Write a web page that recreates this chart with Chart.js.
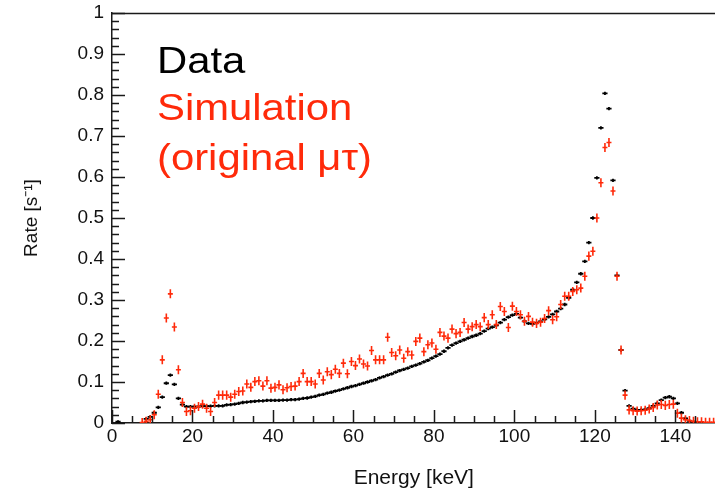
<!DOCTYPE html>
<html>
<head>
<meta charset="utf-8">
<script src="https://cdn.jsdelivr.net/npm/chart.js@4.4.1/dist/chart.umd.min.js"></script>
<style>
  html, body { margin: 0; padding: 0; background: #fff; overflow: hidden; }
  #wrap { width: 720px; height: 492px; }
</style>
</head>
<body>
<div id="wrap"><canvas id="rateChart" width="720" height="492"></canvas></div>
<script>
// axis setup
const energyMin = 0;
const energyMax = 150;
const binWidth = 1;
const xTickValues = [0, 20, 40, 60, 80, 100, 120, 140];
const yTickValues = [0, 0.1, 0.2, 0.3, 0.4, 0.5, 0.6, 0.7, 0.8, 0.9, 1];
const xMinorStep = 5;
const yMinorStep = 0.02;

// rate per 1 keV bin (index = lower bin edge in keV), null = empty bin
const dataRate = [
  null, 0.003, null, null, null, null, null, null, 0.010, 0.015,
  0.025, 0.038, 0.063, 0.097, 0.117, 0.094, 0.060, 0.045, 0.040, 0.040,
  0.040, 0.040, 0.041, 0.041, 0.041, 0.042, 0.042, 0.042, 0.044, 0.045,
  0.046, 0.048, 0.050, 0.051, 0.052, 0.053, 0.054, 0.054, 0.055, 0.055,
  0.055, 0.055, 0.056, 0.056, 0.057, 0.057, 0.058, 0.060, 0.061, 0.063,
  0.065, 0.068, 0.070, 0.073, 0.075, 0.078, 0.080, 0.083, 0.086, 0.089,
  0.091, 0.094, 0.097, 0.100, 0.103, 0.106, 0.110, 0.113, 0.117, 0.120,
  0.124, 0.128, 0.131, 0.134, 0.138, 0.141, 0.145, 0.149, 0.153, 0.158,
  0.163, 0.168, 0.175, 0.183, 0.190, 0.195, 0.199, 0.203, 0.207, 0.211,
  0.214, 0.218, 0.224, 0.230, 0.234, 0.238, 0.245, 0.252, 0.258, 0.263,
  0.266, 0.257, 0.248, 0.243, 0.242, 0.244, 0.248, 0.253, 0.259, 0.265,
  0.272, 0.279, 0.289, 0.305, 0.325, 0.343, 0.364, 0.394, 0.440, 0.500,
  0.598, 0.720, 0.804, 0.767, 0.592, 0.360, 0.178, 0.079, 0.042, 0.035,
  0.032, 0.032, 0.033, 0.036, 0.042, 0.048, 0.056, 0.062, 0.064, 0.060,
  0.048, 0.025, 0.011, 0.005, 0.002, 0.001, null, null, null, null
];

const simRate = [
  null, null, null, null, null, null, null, 0.001, 0.004, 0.008,
  0.020, 0.070, 0.154, 0.256, 0.315, 0.234, 0.130, 0.050, 0.028, 0.030,
  0.036, 0.040, 0.046, 0.036, 0.028, 0.050, 0.068, 0.068, 0.068, 0.063,
  0.070, 0.077, 0.078, 0.095, 0.087, 0.101, 0.103, 0.090, 0.103, 0.085,
  0.087, 0.093, 0.081, 0.086, 0.089, 0.090, 0.101, 0.121, 0.101, 0.101,
  0.095, 0.121, 0.105, 0.125, 0.118, 0.131, 0.121, 0.146, 0.120, 0.150,
  0.140, 0.156, 0.144, 0.139, 0.177, 0.154, 0.154, 0.154, 0.209, 0.172,
  0.164, 0.178, 0.158, 0.174, 0.166, 0.199, 0.207, 0.174, 0.191, 0.195,
  0.180, 0.221, 0.212, 0.207, 0.229, 0.218, 0.221, 0.245, 0.229, 0.235,
  0.240, 0.235, 0.257, 0.240, 0.264, 0.240, 0.284, 0.272, 0.233, 0.285,
  0.272, 0.264, 0.248, 0.260, 0.246, 0.243, 0.246, 0.255, 0.274, 0.252,
  0.259, 0.289, 0.309, 0.309, 0.321, 0.325, 0.329, 0.358, 0.407, 0.419,
  0.500, 0.586, 0.672, 0.684, 0.566, 0.358, 0.178, 0.068, 0.032, 0.030,
  0.029, 0.030, 0.031, 0.034, 0.038, 0.044, 0.045, 0.043, 0.045, 0.046,
  0.024, 0.012, 0.008, 0.006, 0.004, 0.003, 0.003, 0.002, 0.002, 0.002
];

const dataErr = 0.004;
const simErr = 0.011;

const legendLines = ['Data', 'Simulation', '(original \u03bc\u03c4)'];
const legendColors = ['#000000', '#ff2a0a', '#ff2a0a'];

const FONT = '"Liberation Sans", Arial, sans-serif';
const RED = '#ff2a0a';

function toPoints(values) {
  return values
    .map((v, i) => (v === null ? null : { x: energyMin + i * binWidth + binWidth / 2, y: v }))
    .filter((p) => p !== null);
}

// vertical error bars, drawn right after each dataset's markers
const errorBars = {
  id: 'errorBars',
  afterDatasetDraw(chart, args) {
    const { ctx, chartArea } = chart;
    const ds = chart.data.datasets[args.index];
    const yScale = chart.scales.y;
    ctx.save();
    ctx.beginPath();
    ctx.rect(chartArea.left, chartArea.top, chartArea.right - chartArea.left, chartArea.bottom - chartArea.top);
    ctx.clip();
    ctx.strokeStyle = ds.borderColor;
    ctx.lineWidth = ds.borderWidth;
    ctx.beginPath();
    args.meta.data.forEach((el, i) => {
      const v = ds.data[i].y;
      ctx.moveTo(el.x, yScale.getPixelForValue(Math.max(v - ds.errBar, 0)));
      ctx.lineTo(el.x, yScale.getPixelForValue(v + ds.errBar));
    });
    ctx.stroke();
    ctx.restore();
  },
};

// ROOT style frame: inward major/minor ticks, top line and the text box
const rootFrame = {
  id: 'rootFrame',
  afterDatasetsDraw(chart) {
    const { ctx, chartArea } = chart;
    const xScale = chart.scales.x;
    const yScale = chart.scales.y;
    ctx.save();
    ctx.strokeStyle = '#1a1a1a';
    ctx.lineWidth = 1.5;
    ctx.beginPath();
    ctx.moveTo(chartArea.left, chartArea.top + 0.5);
    ctx.lineTo(chartArea.right, chartArea.top + 0.5);
    ctx.stroke();
    for (let k = 0; k * xMinorStep <= energyMax; k++) {
      const px = Math.round(xScale.getPixelForValue(energyMin + k * xMinorStep)) + 0.5;
      const len = k % 4 === 0 ? 13 : 7;
      ctx.beginPath();
      ctx.moveTo(px, chartArea.bottom);
      ctx.lineTo(px, chartArea.bottom - len);
      ctx.stroke();
    }
    for (let k = 0; k <= 50; k++) {
      const py = Math.round(yScale.getPixelForValue(k * yMinorStep)) + 0.5;
      const len = k % 5 === 0 ? 13 : 7;
      ctx.beginPath();
      ctx.moveTo(chartArea.left, py);
      ctx.lineTo(chartArea.left + len, py);
      ctx.stroke();
    }

    ctx.font = '37px ' + FONT;
    ctx.textBaseline = 'alphabetic';
    ctx.textAlign = 'left';
    const baselines = [73, 120, 170];
    legendLines.forEach((t, i) => {
      ctx.save();
      ctx.translate(157, baselines[i]);
      ctx.scale(1.13, 1);
      ctx.fillStyle = legendColors[i];
      ctx.fillText(t, 0, 0);
      ctx.restore();
    });
    ctx.restore();
  },
};

const ctx = document.getElementById('rateChart').getContext('2d');
new Chart(ctx, {
  type: 'scatter',
  data: {
    datasets: [
      {
        label: 'Simulation (original \u03bc\u03c4)',
        data: toPoints(simRate),
        errBar: simErr,
        borderColor: RED,
        backgroundColor: RED,
        pointStyle: 'line',
        pointRadius: 2.5,
        pointHoverRadius: 2.5,
        borderWidth: 1.6,
        order: 0,
      },
      {
        label: 'Data',
        data: toPoints(dataRate),
        errBar: dataErr,
        borderColor: '#000000',
        backgroundColor: '#000000',
        pointStyle: 'line',
        pointRadius: 2.6,
        pointHoverRadius: 2.6,
        borderWidth: 1.8,
        order: 1,
      },
    ],
  },
  options: {
    responsive: false,
    animation: false,
    devicePixelRatio: 1,
    layout: { padding: { top: 13, right: 4, left: 0, bottom: 0 } },
    plugins: {
      legend: { display: false },
      tooltip: { enabled: false },
    },
    scales: {
      x: {
        type: 'linear',
        min: energyMin,
        max: energyMax,
        grid: { display: false, drawTicks: false },
        border: { display: true, color: '#1a1a1a', width: 1.5 },
        afterBuildTicks: (scale) => {
          scale.ticks = xTickValues.map((v) => ({ value: v }));
        },
        afterFit: (scale) => {
          scale.height = 69;
          scale.paddingLeft = 0;
          scale.paddingRight = 0;
        },
        ticks: {
          padding: 2,
          maxRotation: 0,
          color: '#111111',
          font: { family: FONT, size: 19 },
          callback: (v) => String(v),
        },
        title: {
          display: true,
          text: 'Energy [keV]',
          color: '#111111',
          font: { family: FONT, size: 21 },
          padding: { top: 0, bottom: 1 },
        },
      },
      y: {
        type: 'linear',
        min: 0,
        max: 1,
        grid: { display: false, drawTicks: false },
        border: { display: true, color: '#1a1a1a', width: 1.5 },
        afterBuildTicks: (scale) => {
          scale.ticks = yTickValues.map((v) => ({ value: v }));
        },
        afterFit: (scale) => {
          scale.width = 112;
          scale.paddingTop = 0;
          scale.paddingBottom = 0;
        },
        ticks: {
          padding: 8,
          color: '#111111',
          font: { family: FONT, size: 19 },
          callback: (v) => String(v),
        },
        title: {
          display: true,
          text: 'Rate [s\u207b\u00b9]',
          color: '#111111',
          font: { family: FONT, size: 19 },
          padding: { top: 20, bottom: 0 },
        },
      },
    },
  },
  plugins: [errorBars, rootFrame],
});
</script>
</body>
</html>
